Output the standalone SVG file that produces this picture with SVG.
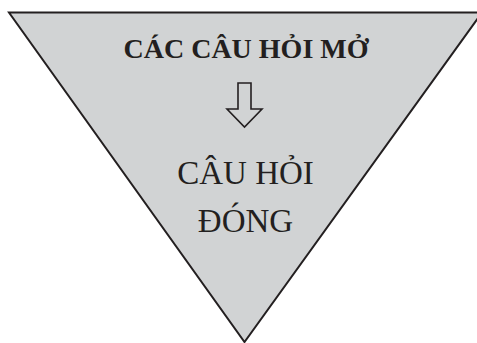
<svg xmlns="http://www.w3.org/2000/svg" width="477" height="343" viewBox="0 0 477 343">
<style>
.shape{fill:#d1d3d4;stroke:#231f20;stroke-width:2}
.arrow{fill:#d1d3d4;stroke:#231f20;stroke-width:1.6;stroke-linejoin:miter}
.t{font-family:"Liberation Serif","Times New Roman",serif;fill:#231f20;text-anchor:middle}
</style>
<rect width="477" height="343" fill="#ffffff"/>
<g id="funnel">
<polygon class="shape" points="9,12.5 482,12.5 244.5,342"/>
</g>
<g id="open-questions">
<text class="t" x="246" y="58" font-size="28" font-weight="bold">CÁC CÂU HỎI MỞ</text>
</g>
<g id="connectors">
<polygon class="arrow" points="238,83 251,83 251,109 262,109 244.5,127 227,109 238,109"/>
</g>
<g id="closed-questions">
<text class="t" x="245.5" y="183.5" font-size="33">CÂU HỎI</text>
<text class="t" x="245.5" y="231.5" font-size="33">ĐÓNG</text>
</g>
</svg>
